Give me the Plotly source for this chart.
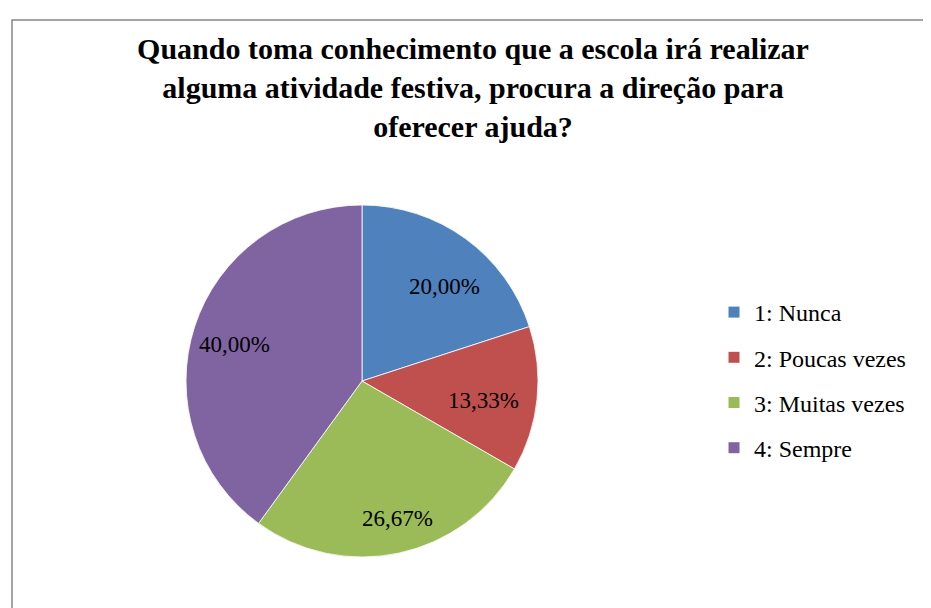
import math
import plotly.graph_objects as go

labels = ["1: Nunca", "2: Poucas vezes", "3: Muitas vezes", "4: Sempre"]
values = [20.00, 13.33, 26.67, 40.00]
colors = ["#4F81BD", "#C0504D", "#9BBB59", "#8064A2"]
title_text = ("<b>Quando toma conhecimento que a escola irá realizar<br>"
              "alguma atividade festiva, procura a direção para<br>"
              "oferecer ajuda?</b>")

# radial placement of each data label, as a fraction of the pie radius (style)
label_radius = [0.72, 0.65, 0.75, 0.81]

W, H = 931, 608
FONT = "Liberation Serif"

fig = go.Figure()
cx, cy, r = 362, 381, 176  # intended pixel centre / radius
dx, dy = -8, -8            # compensation for plotly pie placement
fig.add_trace(go.Pie(
    labels=labels, values=values, sort=False, direction="clockwise", rotation=0,
    marker=dict(colors=colors, line=dict(color="white", width=0.8)),
    textinfo="none",
    domain=dict(x=[(cx + dx - r) / W, (cx + dx + r) / W],
                y=[1 - (cy + dy + r) / H, 1 - (cy + dy - r) / H]),
    showlegend=False, hoverinfo="label+percent",
))

# data labels placed at slice mid-angles (Excel style)
total = sum(values)
cum = 0
annotations = []
for v, fr in zip(values, label_radius):
    mid = (cum + v / 2) / total * 2 * math.pi
    cum += v
    lx = cx + fr * r * math.sin(mid)
    ly = cy - fr * r * math.cos(mid)
    annotations.append(dict(
        x=lx / W, y=1 - ly / H, xref="paper", yref="paper",
        text=f"{v:.2f}".replace(".", ",") + "%", showarrow=False,
        xanchor="center", yanchor="middle",
        font=dict(family=FONT, size=23, color="black")))

# legend entries
for i, (lab, col) in enumerate(zip(labels, colors)):
    fig.add_trace(go.Scatter(
        x=[None], y=[None], mode="markers", name=lab, legendgroup=f"g{i}",
        marker=dict(symbol="square", size=11, color=col),
    ))

fig.update_layout(
    width=W, height=H,
    margin=dict(l=0, r=0, t=0, b=0),
    paper_bgcolor="white", plot_bgcolor="white",
    xaxis=dict(visible=False), yaxis=dict(visible=False),
    title=dict(text=title_text, x=465 / W, xanchor="center", y=1 - 51 / H, yanchor="top",
               font=dict(family=FONT, size=30, color="black")),
    legend=dict(x=706 / W, xanchor="left", y=1 - 282 / H, yanchor="top",
                font=dict(family=FONT, size=24, color="black"),
                traceorder="grouped", tracegroupgap=11, itemwidth=30,
                bgcolor="rgba(0,0,0,0)"),
    annotations=annotations,
    shapes=[dict(type="rect", xref="paper", yref="paper",
                 x0=4 / W, x1=1.05, y0=-0.05, y1=1 - 12 / H,
                 line=dict(color="#868686", width=1.5))],
)

fig.write_html("out.html")
